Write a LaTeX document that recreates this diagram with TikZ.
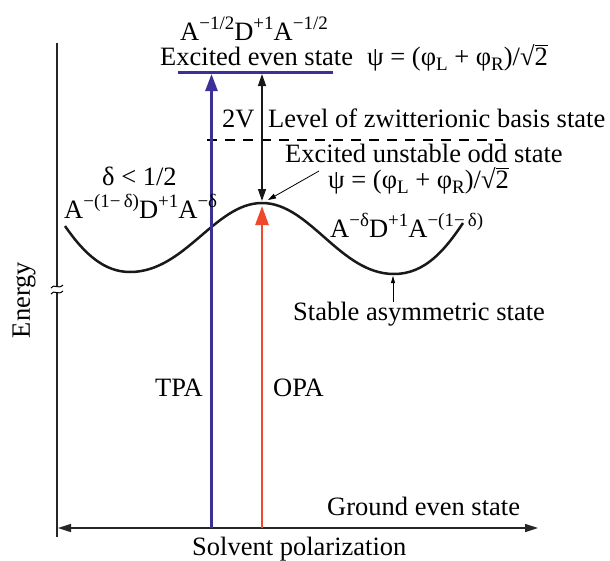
\documentclass[tikz,border=0pt]{standalone}
\usepackage{fontspec}
\setmainfont{Liberation Serif}
\usetikzlibrary{arrows.meta}
\definecolor{tpablue}{HTML}{3B2F98}
\definecolor{opared}{HTML}{F0482C}
\newcommand\rtwo{√\rlap{\rule[0.70em]{0.52em}{0.045em}}2}
\newcommand\sups[1]{\raisebox{0.40em}{\fontsize{19}{20}\selectfont #1}}
\newcommand\subs[1]{\raisebox{-0.2em}{\fontsize{19}{20}\selectfont #1}}
\begin{document}
\begin{tikzpicture}[x=1pt,y=-1pt,
  lbl/.style={inner sep=0pt,anchor=base west,font=\fontsize{26.5}{30}\selectfont},
  axisline/.style={line width=2.4pt,black!85},
  bigarrow/.style={line width=2.6pt},
  thinarrow/.style={line width=1.4pt,black!90}]
\useasboundingbox (0,0) rectangle (610,560);
% coordinates
\coordinate (axtop) at (57,43);
\coordinate (axbot) at (57,537);
\coordinate (hl) at (58,528);
\coordinate (hr) at (538,528);
\coordinate (bbot) at (211.5,528);
\coordinate (btop) at (211.5,74);
\coordinate (rbot) at (262,528);
\coordinate (peak) at (262,203);
\coordinate (rtop) at (262,206);
\coordinate (dtop) at (262,74);
\coordinate (dbot) at (262,201);
\coordinate (evenL) at (178,72.5);
\coordinate (evenR) at (333,72.5);
\coordinate (dashL) at (207,140);
\coordinate (dashR) at (503,140);
\coordinate (ptrS) at (319,171);
\coordinate (ptrE) at (268,200);
\coordinate (minR) at (393,276);
\coordinate (minRs) at (393,302);
% axes
\draw[axisline] (axtop) -- (axbot);
\draw[line width=1.6pt,black!85,{Triangle[width=8pt,length=13pt]}-{Triangle[width=8pt,length=13pt]}] (hl) -- (hr);
% axis break
\fill[white] (50,287) rectangle (64,292);
\draw[line width=1pt] (51,288) .. controls (54,283) and (58,290) .. (63,285);
\draw[line width=1pt] (51,294) .. controls (54,289) and (58,296) .. (63,291);
% potential curve
\draw[line width=2.5pt,black!90] (65,226) .. controls (85,255) and (105,272) .. (130,272)
  .. controls (185,272) and (215,203) .. (peak)
  .. controls (310,203) and (340,274) .. (394,274)
  .. controls (425,274) and (445,250) .. (463,223);
% levels
\draw[line width=2.2pt,tpablue] (evenL) -- (evenR);
\draw[line width=1.1pt,dash pattern=on 10pt off 8pt] (dashL) -- (dashR);
% arrows
\draw[bigarrow,tpablue,-{Triangle[width=12pt,length=17pt]}] (bbot) -- (btop);
\draw[bigarrow,opared,-{Triangle[width=13pt,length=19pt]}] (rbot) -- (rtop);
\draw[thinarrow,{Triangle[width=8pt,length=12pt]}-{Triangle[width=8pt,length=12pt]}] (dtop) -- (dbot);
\draw[line width=0.8pt,-{Triangle[width=5pt,length=8pt]}] (ptrS) -- (ptrE);
\draw[line width=0.8pt,-{Triangle[width=4pt,length=7pt]}] (minRs) -- (minR);
% labels
\node[lbl] (t1) at (180,40) {A\sups{−1/2}D\sups{+1}A\sups{−1/2}};
\node[lbl] (t2) at (160,65) {Excited even state};
\node[lbl] (t3) at (367,65) {ψ = (φ\subs{L} + φ\subs{R})/\rtwo};
\node[lbl] (t4) at (222,127) {2V};
\node[lbl] (t5) at (268,127) {Level of zwitterionic basis state};
\node[lbl] (t6) at (285,162) {Excited unstable odd state};
\node[lbl] (t7) at (328,188) {ψ = (φ\subs{L} + φ\subs{R})/\rtwo};
\node[lbl] (t8) at (102,185) {δ < 1/2};
\node[lbl] (t9) at (64,218) {A\sups{−(1−\,δ)}D\sups{+1}A\sups{−δ}};
\node[lbl] (t10) at (330,237) {A\sups{−δ}D\sups{+1}A\sups{−(1−\,δ)}};
\node[lbl] (t11) at (293,320) {Stable asymmetric state};
\node[lbl] (t12) at (155,396) {TPA};
\node[lbl] (t13) at (273,396) {OPA};
\node[lbl] (t14) at (327,515) {Ground even state};
\node[lbl] (t15) at (192,555) {Solvent polarization};
\node[inner sep=0pt,font=\fontsize{26.5}{30}\selectfont,rotate=90] (t16) at (24,300) {Energy};
\end{tikzpicture}
\end{document}
